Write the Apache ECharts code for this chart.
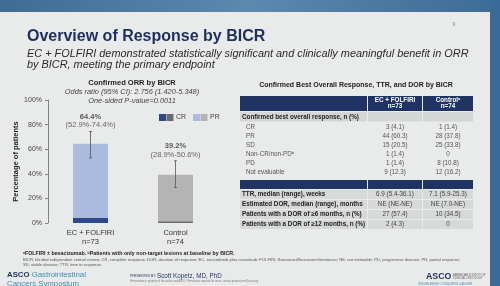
<!DOCTYPE html>
<html>
<head>
<meta charset="utf-8">
<script src="https://cdn.jsdelivr.net/npm/echarts@6/dist/echarts.min.js"></script>
<style>
  html, body { margin: 0; padding: 0; background: #e9ebea; }
  #chart { width: 500px; height: 286px; }
</style>
</head>
<body>
<div id="chart"></div>
<script>
// bar chart data
const categories = ['EC + FOLFIRI', 'Control'];
const groupSizes = ['n=73', 'n=74'];
const crValues = [4.1, 1.4];
const prValues = [60.3, 37.8];
const orrValues = [64.4, 39.2];
const ciLow = [52.9, 28.9];
const ciHigh = [74.4, 50.6];

// table data
const responseLabels = ['CR', 'PR', 'SD', 'Non-CR/non-PD{sup|b}', 'PD', 'Not evaluable'];
const responseEC = ['3 (4.1)', '44 (60.3)', '15 (20.5)', '1 (1.4)', '1 (1.4)', '9 (12.3)'];
const responseControl = ['1 (1.4)', '28 (37.8)', '25 (33.8)', '0', '8 (10.8)', '12 (16.2)'];
const timeLabels = [
  'TTR, median (range), weeks',
  'Estimated DOR, median (range), months',
  'Patients with a DOR of \u22656 months, n (%)',
  'Patients with a DOR of \u226512 months, n (%)'
];
const timeEC = ['6.9 (5.4-36.1)', 'NE (NE-NE)', '27 (57.4)', '2 (4.3)'];
const timeControl = ['7.1 (5.9-25.3)', 'NE (7.0-NE)', '10 (34.5)', '0'];

const FONT = "'Liberation Sans', Arial, sans-serif";
const NAVY = '#1f3463';
const ecColors = { cr: '#2c4a8b', pr: '#a9bcdd' };
const ctlColors = { cr: '#6b6b6b', pr: '#b4b4b4' };

const myChart = echarts.init(document.getElementById('chart'));

function txt(x, y, text, font, fill, align, extra) {
  return {
    type: 'text', x: x, y: y, silent: true,
    style: Object.assign({
      text: text, font: font + ' ' + FONT, fill: fill,
      align: align || 'left', verticalAlign: 'middle'
    }, extra || {})
  };
}
function box(x, y, w, h, fill) {
  return { type: 'rect', silent: true, shape: { x: x, y: y, width: w, height: h }, style: { fill: fill } };
}

// ---- table built from the arrays ----
const colX = [240, 367, 422, 473];
const supRich = { sup: { fontSize: 4, verticalAlign: 'top', fill: '#444', padding: [0, 0, 3, 0] } };

function buildTable() {
  const g = [];
  const cw = [colX[1] - colX[0], colX[2] - colX[1] - 1, colX[3] - colX[2] - 1];
  // header
  g.push(box(colX[0], 96, cw[0], 15, NAVY));
  g.push(box(colX[1] + 1, 96, cw[1], 15, NAVY));
  g.push(box(colX[2] + 1, 96, cw[2], 15, NAVY));
  const c2 = (colX[1] + colX[2]) / 2 + 0.5, c3 = (colX[2] + colX[3]) / 2 + 0.5;
  g.push(txt(c2, 100.5, 'EC + FOLFIRI', 'bold 6.3px', '#fff', 'center'));
  g.push(txt(c2, 106.5, 'n=73', 'bold 6.3px', '#fff', 'center'));
  g.push(txt(c3, 100.5, 'Control{s|a}', 'bold 6.3px', '#fff', 'center',
    { rich: { s: { fontSize: 4, fontWeight: 'bold', fill: '#fff', verticalAlign: 'top', padding: [0, 0, 3, 0] } } }));
  g.push(txt(c3, 106.5, 'n=74', 'bold 6.3px', '#fff', 'center'));
  // section row
  g.push(box(colX[0], 112, cw[0], 9.5, '#d5d6d6'));
  g.push(box(colX[1] + 1, 112, cw[1], 9.5, '#d5d6d6'));
  g.push(box(colX[2] + 1, 112, cw[2], 9.5, '#d5d6d6'));
  g.push(txt(colX[0] + 2, 117, 'Confirmed best overall response, n (%)', 'bold 6.3px', '#222'));
  // response rows
  responseLabels.forEach(function (lab, i) {
    const y = 127 + i * 9.1;
    g.push(txt(colX[0] + 6, y, lab, '6.3px', '#555', 'left', { rich: supRich }));
    g.push(txt(c2, y, responseEC[i], '6.3px', '#555', 'center'));
    g.push(txt(c3, y, responseControl[i], '6.3px', '#555', 'center'));
  });
  // divider band
  g.push(box(colX[0], 180, cw[0], 9, NAVY));
  g.push(box(colX[1] + 1, 180, cw[1], 9, NAVY));
  g.push(box(colX[2] + 1, 180, cw[2], 9, NAVY));
  // time rows
  timeLabels.forEach(function (lab, i) {
    const y = 190 + i * 10;
    g.push(box(colX[0], y, cw[0], 9, '#d7d8d8'));
    g.push(box(colX[1] + 1, y, cw[1], 9, '#d7d8d8'));
    g.push(box(colX[2] + 1, y, cw[2], 9, '#d7d8d8'));
    g.push(txt(colX[0] + 2, y + 4.5, lab, 'bold 6.3px', '#222'));
    g.push(txt(c2, y + 4.5, timeEC[i], '6.3px', '#444', 'center'));
    g.push(txt(c3, y + 4.5, timeControl[i], '6.3px', '#444', 'center'));
  });
  return g;
}

const decor = [
  // slide frame
  { type: 'rect', silent: true, shape: { x: 0, y: 0, width: 500, height: 12 },
    style: { fill: new echarts.graphic.LinearGradient(0, 0, 1, 0, [
      { offset: 0, color: '#3d6c95' }, { offset: 0.5, color: '#5a8ab0' }, { offset: 1, color: '#3b6b97' }]) } },
  box(490, 0, 10, 286, '#3a6b98'),
  // headings
  txt(27, 37, 'Overview of Response by BICR', 'bold 16px', '#1c2f5e'),
  txt(27, 54, 'EC + FOLFIRI demonstrated statistically significant and clinically meaningful benefit in ORR', 'italic 10.9px', '#2a2a2a'),
  txt(27, 65, 'by BICR, meeting the primary endpoint', 'italic 10.9px', '#2a2a2a'),
  txt(454, 25, '9', '5px', '#888', 'center'),
  // bar chart headings
  txt(132, 83, 'Confirmed ORR by BICR', 'bold 7.5px', '#222', 'center'),
  txt(132, 92, 'Odds ratio (95% CI): 2.756 (1.420-5.348)', 'italic 7.4px', '#444', 'center'),
  txt(132, 100.5, 'One-sided P-value=0.0011', 'italic 7.4px', '#444', 'center'),
  // legend
  box(159, 114, 7, 7, ecColors.cr), box(166.5, 114, 7, 7, ctlColors.cr),
  txt(176, 117.5, 'CR', '7px', '#444'),
  box(193, 114, 7, 7, ecColors.pr), box(200.5, 114, 7, 7, ctlColors.pr),
  txt(210, 117.5, 'PR', '7px', '#444'),
  // table heading
  txt(356, 85, 'Confirmed Best Overall Response, TTR, and DOR by BICR', 'bold 7px', '#222', 'center'),
  // footnotes
  txt(23, 254, '{s|a}FOLFIRI \u00b1 bevacizumab. {s|b}Patients with only non-target lesions at baseline by BICR.', 'bold 5.3px', '#222', 'left',
    { rich: { s: { fontSize: 3.5, fontWeight: 'bold', fill: '#222', verticalAlign: 'top', padding: [0, 0, 2, 0] } } }),
  txt(23, 259.5, 'BICR, blinded independent central review; CR, complete response; DOR, duration of response; EC, encorafenib plus cetuximab; FOLFIRI, fluorouracil/leucovorin/irinotecan; NE, not estimable; PD, progressive disease; PR, partial response;', '4.15px', '#555'),
  txt(23, 264.5, 'SD, stable disease; TTR, time to response.', '4.15px', '#555'),
  // footer
  txt(7, 275, '{a|ASCO} {b|Gastrointestinal}', '7.8px', '#1d2f5e', 'left',
    { rich: { a: { fontWeight: 'bold', fontSize: 7.8, fill: '#1d2f5e' }, b: { fontSize: 7.8, fill: '#3c8db8' } } }),
  txt(7, 284, 'Cancers Symposium', '7.8px', '#3c8db8'),
  txt(130, 276.5, 'PRESENTED BY:', '3.3px', '#1d2f5e'),
  txt(157, 276, 'Scott Kopetz, MD, PhD', '6.3px', '#1d2f5e'),
  txt(130, 281.5, 'Presentation is property of the author and ASCO. Permission required for reuse; contact permissions@asco.org', '2.6px', '#777'),
  txt(426, 277, 'ASCO', 'bold 8.8px', '#1d2f5e'),
  txt(453, 275.5, 'AMERICAN SOCIETY OF', '2.8px', '#555'),
  txt(453, 278.5, 'CLINICAL ONCOLOGY', '2.8px', '#555'),
  txt(418, 284.5, 'KNOWLEDGE CONQUERS CANCER', '3.2px', '#3c8db8')
].concat(buildTable());

const option = {
  backgroundColor: '#e9ebea',
  animation: false,
  textStyle: { fontFamily: FONT },
  grid: { left: 48, right: 282, top: 100, bottom: 63 },
  xAxis: {
    type: 'category',
    data: categories,
    axisLine: { show: false },
    axisTick: { show: false },
    axisLabel: {
      margin: 5, fontSize: 7.5, lineHeight: 9, color: '#333',
      formatter: function (v, i) { return v + '\n' + groupSizes[i]; }
    }
  },
  yAxis: {
    type: 'value', min: 0, max: 100, interval: 20,
    name: 'Percentage of patients', nameLocation: 'middle', nameGap: 27,
    nameTextStyle: { fontSize: 7.5, fontWeight: 'bold', color: '#222' },
    axisLine: { show: true, lineStyle: { color: '#666', width: 0.8 } },
    axisTick: { show: true, length: 3, lineStyle: { color: '#666', width: 0.8 } },
    axisLabel: { formatter: '{value}%', fontSize: 7, color: '#444', margin: 6 },
    splitLine: { show: false }
  },
  series: [
    {
      name: 'CR', type: 'bar', stack: 'orr', barWidth: 35,
      data: crValues.map(function (v, i) { return { value: v, itemStyle: { color: i === 0 ? ecColors.cr : ctlColors.cr } }; })
    },
    {
      name: 'PR', type: 'bar', stack: 'orr', barWidth: 35,
      data: prValues.map(function (v, i) { return { value: v, itemStyle: { color: i === 0 ? ecColors.pr : ctlColors.pr } }; })
    },
    {
      name: 'CI', type: 'custom', z: 5,
      data: categories.map(function (c, i) { return [i, ciLow[i], ciHigh[i]]; }),
      renderItem: function (params, api) {
        const lo = api.coord([api.value(0), api.value(1)]);
        const hi = api.coord([api.value(0), api.value(2)]);
        const st = { stroke: '#555', lineWidth: 0.8 };
        return { type: 'group', children: [
          { type: 'line', shape: { x1: lo[0], y1: lo[1], x2: hi[0], y2: hi[1] }, style: st },
          { type: 'line', shape: { x1: lo[0] - 1.5, y1: lo[1], x2: lo[0] + 1.5, y2: lo[1] }, style: st },
          { type: 'line', shape: { x1: hi[0] - 1.5, y1: hi[1], x2: hi[0] + 1.5, y2: hi[1] }, style: st }
        ] };
      }
    },
    {
      name: 'ORR', type: 'scatter', symbolSize: 0, z: 6,
      data: categories.map(function (c, i) { return [i, ciHigh[i]]; }),
      label: {
        show: true, position: 'top', distance: 2,
        formatter: function (p) {
          const i = p.dataIndex;
          return '{b|' + orrValues[i] + '%}\n{n|(' + ciLow[i] + '%-' + ciHigh[i] + '%)}';
        },
        rich: {
          b: { fontSize: 7.5, fontWeight: 'bold', color: '#333', lineHeight: 8.5, align: 'center' },
          n: { fontSize: 7.5, color: '#444', lineHeight: 8.5, align: 'center' }
        }
      }
    }
  ],
  graphic: decor
};

myChart.setOption(option);
window.addEventListener('resize', function () { myChart.resize(); });
</script>
</body>
</html>
